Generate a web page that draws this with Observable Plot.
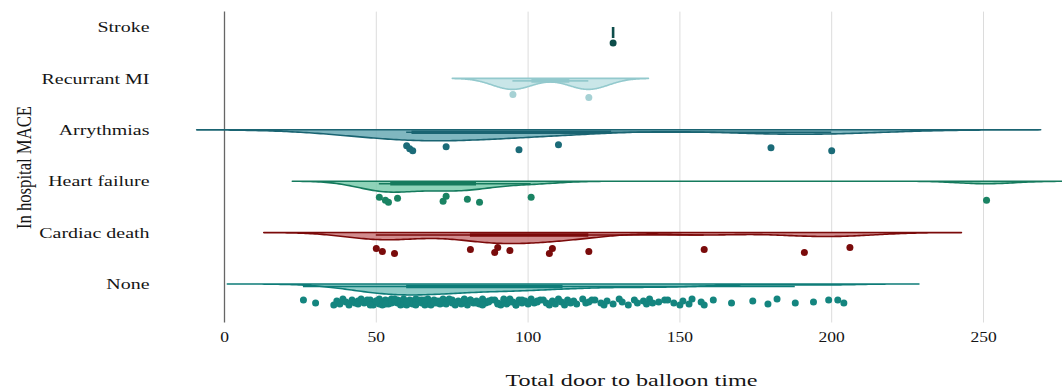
<!DOCTYPE html>
<html>
<head>
<meta charset="utf-8">
<script src="https://cdn.jsdelivr.net/npm/d3@7"></script>
<script src="https://cdn.jsdelivr.net/npm/@observablehq/plot@0.6"></script>
<style>
  html, body { margin: 0; padding: 0; background: #fff; }
  #chart svg { display: block; }
</style>
</head>
<body>
<div id="chart"></div>
<script>
// ---- data ----
const categories = ["Stroke", "Recurrant MI", "Arrythmias", "Heart failure", "Cardiac death", "None"];
const strokeVals = [128];
const recurrantMIVals = [95, 120];
const arrythmiasVals = [60, 61, 62, 73, 97, 110, 180, 200];
const heartFailureVals = [51, 53, 54, 57, 72, 73, 80, 84, 101, 251];
const cardiacDeathVals = [50, 52, 56, 81, 89, 90, 94, 107, 108, 120, 158, 191, 206];
const noneVals = [
  26, 30, 36, 37, 38, 39, 40, 41, 42, 43, 44, 44, 45, 46, 47, 47, 48, 49, 49, 50,
  51, 51, 52, 52, 53, 53, 54, 54, 55, 55, 56, 56, 57, 57, 58, 58, 59, 59, 60, 60,
  61, 61, 62, 62, 63, 63, 64, 64, 65, 65, 66, 66, 67, 67, 68, 68, 69, 70, 70, 71,
  72, 72, 73, 74, 75, 75, 76, 77, 78, 79, 80, 80, 81, 82, 83, 84, 85, 86, 87, 88,
  89, 90, 91, 92, 93, 94, 95, 96, 97, 98, 99, 100, 101, 102, 103, 104, 105, 106, 107, 108,
  109, 110, 111, 112, 113, 114, 115, 116, 118, 119, 120, 121, 122, 124, 125, 126, 128, 130, 131, 133,
  135, 136, 138, 139, 140, 141, 143, 145, 146, 148, 150, 151, 153, 154, 157, 158, 161, 167, 174, 179,
  182, 188, 194, 199, 202, 204,
  48, 50, 53, 56, 60, 63, 66, 69, 71, 73, 74, 76, 78, 79, 81, 83, 85, 87, 90, 92, 94, 96, 98, 100, 103
];
const xTicks = [0, 50, 100, 150, 200, 250];
const xTitle = "Total door to balloon time";
const yTitle = "In hospital MACE";
const groupValues = [strokeVals, recurrantMIVals, arrythmiasVals, heartFailureVals, cardiacDeathVals, noneVals];

// ---- styles ----
const bandwidths = [0, 6.6, 23, 9.5, 12.3, 8.3];
const fillColors  = ["#0d4d4a", "#bfe2e4", "#6aaab5", "#7acbad", "#c9787a", "#7cc4be"];
const lineColors  = ["#0d4d4a", "#93c9cd", "#1a6472", "#157a5d", "#7b0a0a", "#0e7c78"];
const dotColors   = ["#0d4d4a", "#a6d1d4", "#1b6b78", "#1a8363", "#7a0b0b", "#14857f"];
const jitterPx = [-2, 1, 3, -1, 2, -3, 0, 3, -2, 1, -1, 2, -3, 1, 0, -2];
const rowPx = 51.4;
const depth = 11 / rowPx;
const dotOffset = 17.5 / rowPx;
const boxOffset = 2 / rowPx;
const textColor = "#151515";

const marks = [];
marks.push(Plot.gridX(xTicks.slice(1), {stroke: "#dcdcdc", strokeOpacity: 1, strokeWidth: 1}));
marks.push(Plot.ruleX([0], {stroke: "#666", strokeWidth: 1.3}));

groupValues.forEach((vals, i) => {
  const sorted = vals.slice().sort(d3.ascending);
  const bw = bandwidths[i];
  if (sorted.length > 1 && bw > 0) {
    const lo = d3.min(sorted) - 3 * bw, hi = d3.max(sorted) + 3 * bw;
    const n = 300;
    const xs = d3.range(n + 1).map(k => lo + (hi - lo) * k / n);
    const dens = xs.map(x => d3.sum(sorted, v => Math.exp(-0.5 * ((x - v) / bw) ** 2)));
    const mx = d3.max(dens);
    const rows = xs.map((x, k) => ({x, y1: i, y2: i + dens[k] / mx * depth}));
    marks.push(Plot.areaY(rows, {x: "x", y1: "y1", y2: "y2", fill: fillColors[i], fillOpacity: 0.85,
      stroke: lineColors[i], strokeWidth: 1.6, curve: "linear"}));
    // boxplot
    const q1 = d3.quantile(sorted, 0.25), q3 = d3.quantile(sorted, 0.75), iqr = q3 - q1;
    const lw = d3.min(sorted.filter(v => v >= q1 - 1.5 * iqr));
    const uw = d3.max(sorted.filter(v => v <= q3 + 1.5 * iqr));
    marks.push(Plot.ruleY([{y: i + boxOffset, x1: lw, x2: uw}], {x1: "x1", x2: "x2", y: "y", stroke: lineColors[i], strokeWidth: 1.6}));
    marks.push(Plot.ruleY([{y: i + boxOffset, x1: q1, x2: q3}], {x1: "x1", x2: "x2", y: "y", stroke: lineColors[i], strokeWidth: 3.6}));
  } else {
    marks.push(Plot.ruleX([{x: sorted[0], y1: i, y2: i + depth}], {x: "x", y1: "y1", y2: "y2", stroke: lineColors[i], strokeWidth: 2.6}));
  }
  const pts = vals.map((v, j) => ({x: v, y: i + dotOffset + jitterPx[j % jitterPx.length] / rowPx}));
  marks.push(Plot.dot(pts, {x: "x", y: "y", r: 3.5, fill: dotColors[i], stroke: "none"}));
});

marks.push(Plot.axisX(xTicks, {tickSize: 0, tickPadding: 9, fontSize: 14, label: null, fill: textColor}));
marks.push(Plot.axisY(categories.map((c, i) => i), {tickFormat: i => categories[i], tickSize: 0, tickPadding: 11, fontSize: 15, label: null, fill: textColor}));
marks.push(Plot.text([yTitle], {frameAnchor: "left", textAnchor: "middle", dx: -137, rotate: -90, fontSize: 22, fill: textColor, className: "ytitle"}));
marks.push(Plot.text([xTitle], {frameAnchor: "bottom", lineAnchor: "bottom", textAnchor: "middle", dx: 20, dy: 63, fontSize: 17, fill: textColor, className: "xtitle"}));

const chart = Plot.plot({
  width: 1062,
  height: 389,
  marginLeft: 160,
  marginRight: 0,
  marginTop: 11.6,
  marginBottom: 66.5,
  style: {fontFamily: "'Liberation Serif', 'Times New Roman', serif", background: "#fff", overflow: "hidden"},
  x: {domain: [0, 250], range: [224, 983]},
  y: {domain: [-0.3, 5.75], range: [11.6, 322.5]},
  marks
});
document.getElementById("chart").appendChild(chart);

// the reference's lettering is horizontally stretched; emulate with textLength
function stretch(sel, factor) {
  d3.select(chart).selectAll(sel).each(function() {
    const len = this.getComputedTextLength();
    this.setAttribute("textLength", len * factor);
    this.setAttribute("lengthAdjust", "spacingAndGlyphs");
  });
}
stretch('g[aria-label="y-axis tick label"] text', 1.33);
stretch('g[aria-label="x-axis tick label"] text', 1.25);
d3.select(chart).selectAll(".ytitle text").each(function() {
  this.setAttribute("textLength", 123);
  this.setAttribute("lengthAdjust", "spacingAndGlyphs");
});
d3.select(chart).selectAll(".xtitle text").each(function() {
  this.setAttribute("textLength", 252);
  this.setAttribute("lengthAdjust", "spacingAndGlyphs");
});
</script>
</body>
</html>
